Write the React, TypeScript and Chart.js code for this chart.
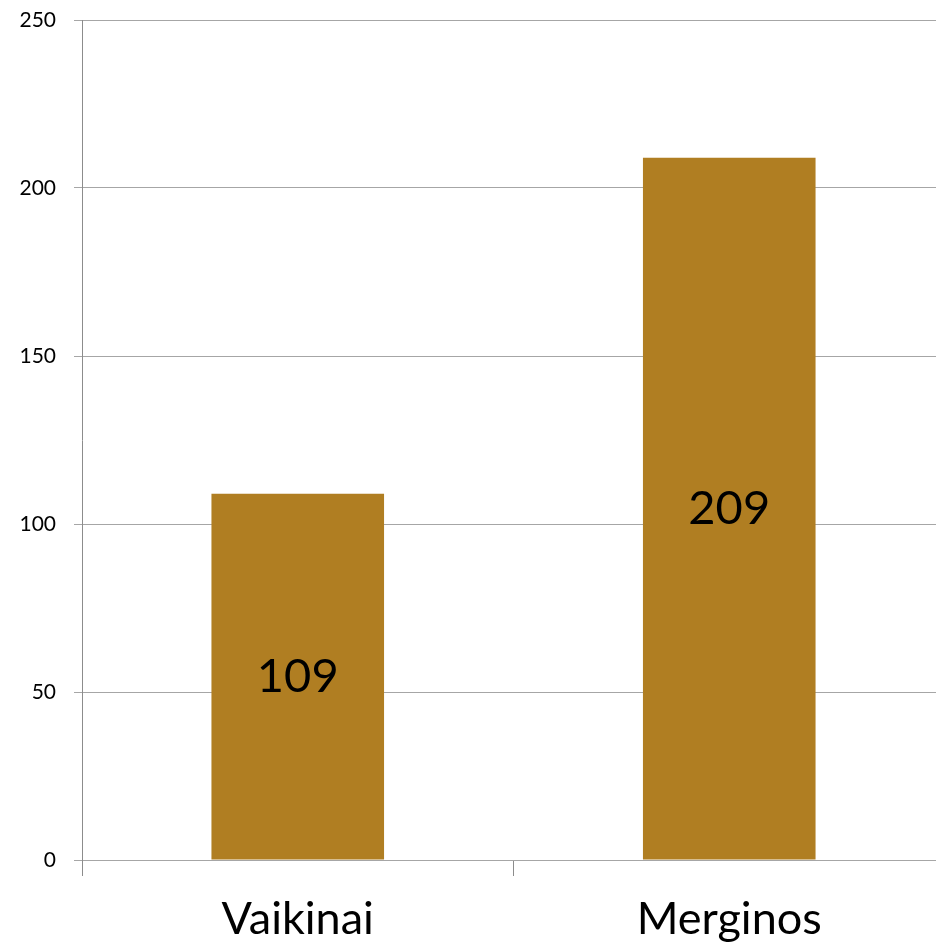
import React, { useEffect, useRef } from "react";
import { Chart, registerables } from "chart.js";

Chart.register(...registerables);

const categories = ["Vaikinai", "Merginos"];
const values = [109, 209];
const yTicks = [0, 50, 100, 150, 200, 250];

const FONT = "Lato, 'Open Sans', sans-serif";

const centerLabels = {
  id: "centerLabels",
  afterDatasetsDraw(chart: any) {
    const ctx = chart.ctx;
    const meta = chart.getDatasetMeta(0);
    ctx.save();
    ctx.fillStyle = "#000000";
    ctx.font = `47px ${FONT}`;
    ctx.textAlign = "center";
    ctx.textBaseline = "middle";
    meta.data.forEach((bar: any, i: number) => {
      const y = (bar.y + bar.base) / 2;
      ctx.fillText(String(values[i]), bar.x, y);
    });
    ctx.restore();
  },
};

export default function App() {
  const ref = useRef<HTMLCanvasElement | null>(null);
  useEffect(() => {
    document.body.style.margin = "0";
    const chart = new Chart(ref.current!, {
      type: "bar",
      data: {
        labels: categories,
        datasets: [
          {
            data: values,
            backgroundColor: "#B07E22",
            borderWidth: 0,
            barPercentage: 0.8,
            categoryPercentage: 0.5,
          },
        ],
      },
      options: {
        animation: false,
        responsive: false,
        layout: { padding: { top: 20, right: 1, left: 0, bottom: 0 } },
        plugins: { legend: { display: false }, tooltip: { enabled: false } },
        scales: {
          x: {
            grid: {
              drawOnChartArea: false,
              drawTicks: true,
              tickLength: 16,
              color: "#8C8C8C",
              offset: true,
            },
            border: { color: "#A6A6A6", width: 1 },
            ticks: {
              color: "#000000",
              font: { family: FONT, size: 45 },
              padding: 16,
            },
            afterFit: (s: any) => {
              s.height = 86;
              s.paddingLeft = 0;
              s.paddingRight = 0;
            },
          },
          y: {
            min: 0,
            max: 250,
            afterBuildTicks: (s: any) => {
              s.ticks = yTicks.map((v) => ({ value: v }));
            },
            grid: { color: "#A6A6A6", tickLength: 8 },
            border: { color: "#8C8C8C", width: 1 },
            ticks: {
              color: "#000000",
              font: { family: FONT, size: 21 },
              padding: 18,
            },
            afterFit: (s: any) => {
              s.width = 82;
              s.paddingTop = 0;
              s.paddingBottom = 0;
            },
          },
        },
      },
      plugins: [centerLabels],
    });
    return () => chart.destroy();
  }, []);
  return (
    <div style={{ width: 936, height: 946, overflow: "hidden", background: "#fff" }}>
      <canvas ref={ref} width={946} height={946} style={{ display: "block" }} />
    </div>
  );
}
